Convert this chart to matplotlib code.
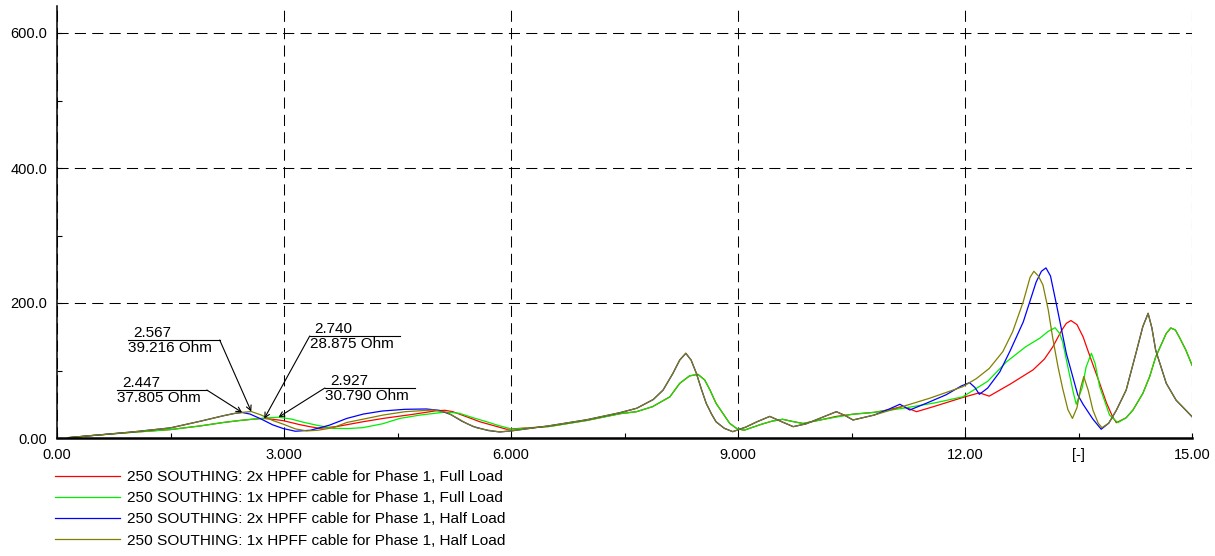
import numpy as np
import matplotlib
matplotlib.use("Agg")
import matplotlib.pyplot as plt
from matplotlib.ticker import FixedLocator, FixedFormatter

plt.rcParams['font.family'] = ['Liberation Sans', 'DejaVu Sans']
plt.rcParams['lines.scale_dashes'] = False

# Harmonic impedance sweeps, order [-] vs impedance [Ohm]
labels = [
    "250 SOUTHING: 2x HPFF cable for Phase 1, Full Load",
    "250 SOUTHING: 1x HPFF cable for Phase 1, Full Load",
    "250 SOUTHING: 2x HPFF cable for Phase 1, Half Load",
    "250 SOUTHING: 1x HPFF cable for Phase 1, Half Load",
]
colors = ["#ff0000", "#00ee00", "#0000ff", "#808000"]

full2_x = [0.15, 0.5, 1.0, 1.5, 1.9, 2.2, 2.42, 2.6, 2.74, 2.87, 2.99, 3.2, 3.34, 3.47, 3.7, 4.04,
           4.31, 4.7, 5.02, 5.13, 5.23, 5.4, 5.59, 5.94, 6.5, 7.0, 7.44, 7.66, 7.87, 8.10, 8.23,
           8.36, 8.47, 8.56, 8.63, 8.71, 8.8, 8.89, 8.98, 9.08, 9.3, 9.45, 9.59, 9.72, 9.86, 10.1,
           10.3, 10.54, 10.8, 11.0, 11.18, 11.36, 11.6, 11.97, 12.19, 12.32, 12.6, 12.9, 13.05,
           13.16, 13.28, 13.34, 13.40, 13.48, 13.56, 13.67, 13.78, 13.87, 13.95, 14.0, 14.13,
           14.22, 14.35, 14.44, 14.52, 14.66, 14.72, 14.78, 14.83, 14.92, 15.0]
full2_y = [0.5, 4, 8.5, 12.5, 18, 23, 26, 28, 28.875, 27.5, 25.7, 20, 16.8, 14.3, 17, 24,
           29, 35, 40.5, 41, 39, 32, 24, 13, 17, 26, 36, 39, 46.4, 61, 81,
           92, 94.3, 86, 71, 51.4, 36.5, 21.7, 14.3, 11.5, 20, 25, 27.7, 24.5, 21.5, 27,
           32, 35.5, 38, 42, 47, 39, 47, 60, 67, 62, 80, 101, 117,
           135, 160, 170, 174, 168, 150, 115, 81, 52, 31.6, 22.7, 30,
           41.5, 66, 90.8, 120, 155, 163, 160, 150, 130, 108]

full1_x = [0.15, 0.5, 1.0, 1.5, 1.9, 2.2, 2.42, 2.6, 2.74, 2.927, 3.1, 3.25, 3.43, 3.65, 3.85,
           4.04, 4.3, 4.53, 4.8, 5.1, 5.2, 5.32, 5.5, 5.68, 5.85, 6.02, 6.5, 7.0, 7.44, 7.66,
           7.87, 8.10, 8.23, 8.36, 8.47, 8.56, 8.63, 8.71, 8.8, 8.89, 8.98, 9.08, 9.3, 9.45,
           9.59, 9.72, 9.86, 10.1, 10.3, 10.5, 10.8, 11.18, 11.6, 11.97, 12.3, 12.55, 12.8,
           12.99, 13.1, 13.19, 13.25, 13.29, 13.36, 13.43, 13.47, 13.55, 13.6, 13.67, 13.72,
           13.78, 13.91, 14.02, 14.13, 14.22, 14.35, 14.44, 14.52, 14.66, 14.72, 14.78, 14.83,
           14.92, 15.0]
full1_y = [0.5, 4, 8.5, 12.5, 18, 23, 26, 28, 29.5, 30.79, 28, 23.5, 19, 14.3, 14,
           15.3, 21, 29, 34, 38, 38, 36.5, 30, 24, 18, 13, 17, 26, 36, 39,
           46.4, 61, 81, 92, 94.3, 86, 71, 51.4, 36.5, 21.7, 14.3, 11.5, 20, 25,
           27.7, 24.5, 21.5, 27, 31, 35, 38, 44, 52, 61, 84, 113, 135,
           148, 158, 163.4, 155, 142.7, 105, 68, 50, 75, 105, 125.5, 110,
           76, 34, 22.7, 30, 41.5, 66, 90.8, 120, 155, 163, 160, 150,
           130, 108]

half2_x = [0.15, 0.5, 1.0, 1.5, 1.9, 2.2, 2.35, 2.447, 2.55, 2.7, 2.85, 2.99, 3.15, 3.35, 3.6,
           3.83, 4.05, 4.3, 4.6, 4.88, 5.05, 5.2, 5.35, 5.5, 5.7, 5.85, 6.0, 6.5, 7.0, 7.44,
           7.66, 7.88, 8.01, 8.14, 8.23, 8.31, 8.38, 8.45, 8.52, 8.58, 8.65, 8.71, 8.82, 8.93,
           9.1, 9.25, 9.42, 9.58, 9.73, 9.9, 10.1, 10.3, 10.42, 10.52, 10.8, 11.0, 11.14, 11.27,
           11.5, 11.75, 11.95, 12.06, 12.13, 12.19, 12.3, 12.46, 12.6, 12.77, 12.94, 13.01,
           13.07, 13.13, 13.21, 13.34, 13.49, 13.56, 13.69, 13.80, 13.9, 14.0, 14.13, 14.26,
           14.35, 14.42, 14.47, 14.52, 14.66, 14.79, 14.92, 15.0]
half2_y = [0.5, 4, 9, 15, 25, 33, 36.5, 37.805, 35.5, 28, 19.5, 14, 10, 11.5, 19,
           29, 35.5, 40, 42.5, 43, 41, 35, 25, 17, 11, 9, 10.5, 18, 27, 37.5,
           44, 57, 71, 95.8, 115.5, 125.5, 115.5, 95.8, 71, 51.4, 35.5, 24, 14.3, 9.4,
           16, 24, 32, 24, 16.8, 21, 30, 39, 33, 26.7, 34, 43, 50, 41.5,
           52, 64, 77, 82, 75, 64.7, 74, 98, 130, 172, 231, 247,
           252, 240, 197, 125, 64, 50, 28, 13, 22, 41, 71, 126,
           165, 184.7, 163, 130, 81, 56, 41, 31.6]

half1_x = [0.15, 0.5, 1.0, 1.5, 1.9, 2.2, 2.35, 2.447, 2.567, 2.7, 2.85, 2.99, 3.15, 3.3, 3.45,
           3.65, 3.83, 4.05, 4.31, 4.6, 4.97, 5.15, 5.28, 5.41, 5.55, 5.68, 5.85, 6.0, 6.5, 7.0,
           7.44, 7.66, 7.88, 8.01, 8.14, 8.23, 8.31, 8.38, 8.45, 8.52, 8.58, 8.65, 8.71, 8.82,
           8.93, 9.1, 9.25, 9.42, 9.58, 9.73, 9.9, 10.1, 10.3, 10.42, 10.52, 10.8, 11.14, 11.53,
           11.97, 12.15, 12.32, 12.5, 12.63, 12.77, 12.86, 12.91, 12.97, 13.03, 13.1, 13.16,
           13.23, 13.29, 13.36, 13.42, 13.48, 13.53, 13.57, 13.63, 13.69, 13.76, 13.81, 13.9,
           14.0, 14.13, 14.26, 14.35, 14.42, 14.47, 14.52, 14.66, 14.79, 14.92, 15.0]
half1_y = [0.5, 4, 9, 15, 25, 33, 36.5, 38, 39.216, 34, 26, 20.5, 13.5, 10.5, 11.5,
           15.3, 23, 28, 34, 39, 41.5, 38, 30, 21.7, 15, 11.9, 9, 10.5, 18, 27,
           37.5, 44, 57, 71, 95.8, 115.5, 125.5, 115.5, 95.8, 71, 51.4, 35.5, 24, 14.3,
           9.4, 16, 24, 32, 24, 16.8, 21, 30, 39, 33, 26.7, 34, 45.4, 58.8,
           76, 88, 103, 128, 157.5, 202, 238, 247, 240, 226.7, 190, 147.7,
           105, 73.6, 42, 29, 45, 75, 91, 70, 41.5, 22, 15.3, 22,
           41, 71, 126, 165, 184.7, 163, 130, 81, 56, 41, 31.6]

series_x = [full2_x, full1_x, half2_x, half1_x]
series_y = [full2_y, full1_y, half2_y, half1_y]

# marked points: (series index, x); value is taken from the series itself
marked = [(2, 2.447), (3, 2.567), (0, 2.740), (1, 2.927)]
# label box placement: underline start, end, height, leader attached at which end
label_boxes = [(0.79, 1.98, 71.1, "right"),
               (0.94, 2.15, 145.2, "right"),
               (3.34, 4.53, 151.1, "left"),
               (3.54, 4.73, 74.1, "left")]

fig = plt.figure(figsize=(12.15, 5.56), dpi=100)
ax = fig.add_axes([57 / 1215, 118 / 556, 1135 / 1215, 432 / 556])

for xs, ys, c, lab in zip(series_x, series_y, colors, labels):
    ax.plot(xs, ys, color=c, lw=0.9, label=lab)

ax.set_xlim(0, 15)
ax.set_ylim(0, 640)

ax.xaxis.set_major_locator(FixedLocator([0, 3, 6, 9, 12, 15]))
ax.xaxis.set_major_formatter(FixedFormatter(["0.00", "3.000", "6.000", "9.000", "12.00", "15.00"]))
ax.xaxis.set_minor_locator(FixedLocator([1.5, 4.5, 7.5, 10.5, 13.5]))
ax.xaxis.set_minor_formatter(FixedFormatter(["", "", "", "", "[-]"]))
ax.yaxis.set_major_locator(FixedLocator([0, 200, 400, 600]))
ax.yaxis.set_major_formatter(FixedFormatter(["0.00", "200.0", "400.0", "600.0"]))
ax.yaxis.set_minor_locator(FixedLocator([100, 300, 500]))

ax.tick_params(which="both", direction="in", length=3.5, width=0.8, labelsize=10.5, color="black")
ax.tick_params(axis="x", which="both", pad=7)
ax.tick_params(axis="y", which="both", pad=7)

ax.grid(True, which="major", color="black", lw=0.75, linestyle=(0, (8, 4.5)))
for s in ["top", "right"]:
    ax.spines[s].set_visible(False)
ax.spines["left"].set_linewidth(1.1)
ax.spines["bottom"].set_linewidth(1.8)

for (si, mx), (x0, x1, yl, side) in zip(marked, label_boxes):
    xs = series_x[si]
    my = series_y[si][xs.index(mx)]
    xj = x1 if side == "right" else x0
    ax.plot([x0, x1], [yl, yl], color="black", lw=0.8)
    ax.annotate("", xy=(mx, my), xytext=(xj, yl),
                arrowprops=dict(arrowstyle="->,head_length=0.35,head_width=0.18",
                                color="black", lw=0.8, shrinkA=0, shrinkB=0))
    ax.annotate(f"{mx:.3f}", xy=(x0, yl), xytext=(5, 3), textcoords="offset pixels",
                ha="left", va="baseline", fontsize=11)
    ax.annotate(f"{my:.3f} Ohm", xy=(x0, yl), xytext=(0, -1), textcoords="offset pixels",
                ha="left", va="top", fontsize=11)

ax.legend(loc="upper left", bbox_to_anchor=(55 / 1215, 86 / 556), bbox_transform=fig.transFigure,
          frameon=False, fontsize=11.1, borderpad=0, borderaxespad=0, handlelength=4.2,
          handletextpad=0.5, labelspacing=0.47)

fig.savefig("out.png", dpi=100)
